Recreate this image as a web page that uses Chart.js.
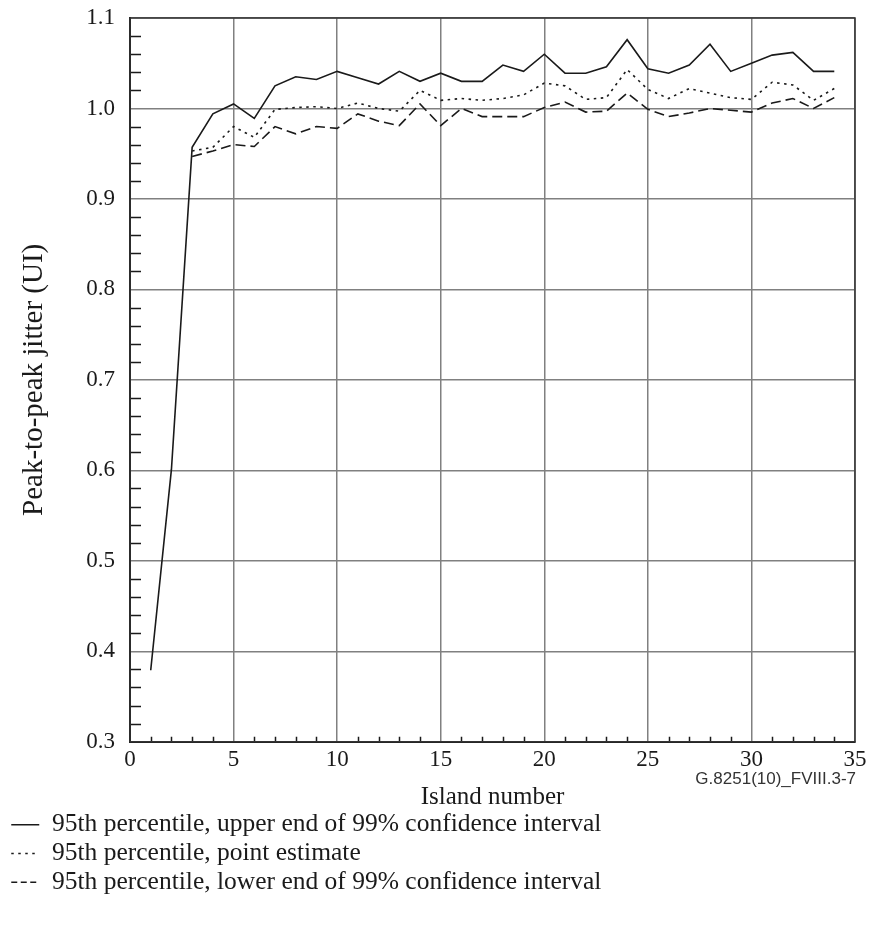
<!DOCTYPE html>
<html>
<head>
<meta charset="utf-8">
<script src="https://cdn.jsdelivr.net/npm/chart.js@4.4.1/dist/chart.umd.min.js"></script>
<style>
  html, body { margin: 0; padding: 0; background: #fff; }
  #wrap { width: 871px; height: 926px; }
</style>
</head>
<body>
<div id="wrap"><canvas id="chartJitter" width="871" height="926"></canvas></div>
<script>
// Island index 1..34
const islands = [1, 2, 3, 4, 5, 6, 7, 8, 9, 10, 11, 12, 13, 14, 15, 16, 17,
                 18, 19, 20, 21, 22, 23, 24, 25, 26, 27, 28, 29, 30, 31, 32, 33, 34];

// 95th percentile, upper end of 99% CI
const upperCI = [0.379, 0.601, 0.957, 0.994, 1.005, 0.989, 1.025, 1.035, 1.032, 1.041,
                 1.034, 1.027, 1.041, 1.030, 1.039, 1.030, 1.030, 1.048, 1.041, 1.060,
                 1.039, 1.039, 1.046, 1.076, 1.044, 1.039, 1.048, 1.071, 1.041, 1.050,
                 1.059, 1.062, 1.041, 1.041];

// 95th percentile, point estimate
const pointEst = [null, null, 0.953, 0.957, 0.980, 0.968, 0.999, 1.001, 1.002, 1.000,
                  1.006, 1.000, 0.997, 1.020, 1.009, 1.011, 1.009, 1.011, 1.015, 1.028,
                  1.025, 1.010, 1.012, 1.043, 1.021, 1.011, 1.022, 1.017, 1.012, 1.010,
                  1.029, 1.026, 1.009, 1.022];

// 95th percentile, lower end of 99% CI
const lowerCI = [null, null, 0.947, 0.953, 0.960, 0.958, 0.980, 0.972, 0.980, 0.978,
                 0.994, 0.986, 0.981, 1.005, 0.981, 1.000, 0.991, 0.991, 0.991, 1.001,
                 1.007, 0.996, 0.997, 1.017, 0.999, 0.991, 0.995, 1.000, 0.998, 0.996,
                 1.006, 1.011, 1.000, 1.012];

const xTicks = [0, 5, 10, 15, 20, 25, 30, 35];
const yTicks = [0.3, 0.4, 0.5, 0.6, 0.7, 0.8, 0.9, 1.0, 1.1];

const serif = 'Liberation Serif, Times New Roman, serif';
const ink = '#1a1a1a';

function toPoints(values) {
    return islands.map((x, i) => ({ x: x, y: values[i] }));
}

// small inward ticks + frame + figure code
const figureExtras = {
    id: 'figureExtras',
    beforeDatasetsDraw(chart) {
        const { ctx, chartArea, scales } = chart;
        ctx.save();
        ctx.strokeStyle = ink;
        ctx.lineWidth = 1.5;
        ctx.beginPath();
        for (let i = 1; i < 40; i++) {
            if (i % 5 === 0) continue;
            const y = Math.round(scales.y.getPixelForValue(0.3 + i * 0.02)) + 0.5;
            ctx.moveTo(chartArea.left, y);
            ctx.lineTo(chartArea.left + 11, y);
        }
        for (let i = 1; i < 35; i++) {
            if (i % 5 === 0) continue;
            const x = Math.round(scales.x.getPixelForValue(i)) + 0.5;
            ctx.moveTo(x, chartArea.bottom);
            ctx.lineTo(x, chartArea.bottom - 5);
        }
        ctx.stroke();
        ctx.strokeStyle = '#333';
        ctx.lineWidth = 1.5;
        ctx.strokeRect(chartArea.left, chartArea.top, chartArea.right - chartArea.left, chartArea.bottom - chartArea.top);
        ctx.restore();
    },
    afterDraw(chart) {
        const { ctx, chartArea } = chart;
        ctx.save();
        ctx.fillStyle = '#333';
        ctx.font = '17px Liberation Sans, Arial, sans-serif';
        ctx.textAlign = 'right';
        ctx.textBaseline = 'middle';
        ctx.fillText('G.8251(10)_FVIII.3-7', chartArea.right + 1, chartArea.bottom + 38);
        ctx.restore();
    }
};

new Chart(document.getElementById('chartJitter').getContext('2d'), {
    type: 'line',
    data: {
        datasets: [{
            label: '95th percentile, upper end of 99% confidence interval',
            data: toPoints(upperCI),
            borderColor: ink,
            borderWidth: 1.6,
            pointRadius: 0,
            tension: 0,
            fill: false
        }, {
            label: '95th percentile, point estimate',
            data: toPoints(pointEst),
            borderColor: ink,
            borderWidth: 1.6,
            borderDash: [2.5, 4.5],
            pointRadius: 0,
            tension: 0,
            fill: false
        }, {
            label: '95th percentile, lower end of 99% confidence interval',
            data: toPoints(lowerCI),
            borderColor: ink,
            borderWidth: 1.6,
            borderDash: [10, 5],
            pointRadius: 0,
            tension: 0,
            fill: false
        }]
    },
    options: {
        responsive: false,
        devicePixelRatio: 1,
        animation: false,
        layout: { padding: { left: 8, right: 16, top: 18, bottom: 21 } },
        plugins: {
            legend: {
                position: 'bottom',
                align: 'start',
                labels: {
                    usePointStyle: true,
                    pointStyle: 'line',
                    pointStyleWidth: 28,
                    padding: 3.25,
                    color: ink,
                    font: { family: serif, size: 25.5 },
                    // point-style legend ignores borderDash, so set the sample dash here
                    generateLabels: chart => Chart.defaults.plugins.legend.labels.generateLabels(chart).map(item => {
                        const ds = chart.data.datasets[item.datasetIndex];
                        item.lineDash = ds.borderDash ? [6, 3.5] : [];
                        if (ds.borderDash && ds.borderDash[0] < 5) item.lineDash = ds.borderDash;
                        item.lineWidth = ds.borderWidth;
                        item.strokeStyle = ds.borderColor;
                        return item;
                    })
                }
            },
            tooltip: { enabled: false }
        },
        scales: {
            x: {
                type: 'linear',
                min: 0,
                max: 35,
                afterBuildTicks: s => { s.ticks = xTicks.map(v => ({ value: v })); },
                afterFit: s => { s.height = 67; s.paddingLeft = 0; s.paddingRight = 0; },
                grid: { color: '#808080', lineWidth: 1.5, drawTicks: false },
                border: { color: ink, width: 2 },
                ticks: { padding: 4, maxRotation: 0, color: ink, font: { family: serif, size: 23 } },
                title: {
                    display: true,
                    text: 'Island number',
                    color: ink,
                    font: { family: serif, size: 25, lineHeight: 1 },
                    padding: { top: 0, bottom: -1 }
                }
            },
            y: {
                min: 0.3,
                max: 1.1,
                afterBuildTicks: s => { s.ticks = yTicks.map(v => ({ value: v })); },
                afterFit: s => { s.width = 122; s.paddingTop = 0; s.paddingBottom = 0; },
                grid: { color: '#808080', lineWidth: 1.5, drawTicks: false },
                border: { color: ink, width: 2 },
                ticks: {
                    padding: 15,
                    color: ink,
                    font: { family: serif, size: 23 },
                    callback: v => v.toFixed(1)
                },
                title: {
                    display: true,
                    text: 'Peak-to-peak jitter (UI)',
                    color: ink,
                    font: { family: serif, size: 29 },
                    padding: { top: 9, bottom: 0 }
                }
            }
        }
    },
    plugins: [figureExtras]
});
</script>
</body>
</html>
